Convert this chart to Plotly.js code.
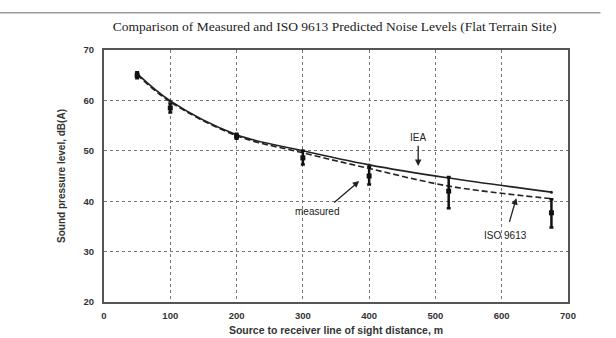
<!DOCTYPE html>
<html>
<head>
<meta charset="utf-8">
<script src="https://cdn.plot.ly/plotly-3.0.1.min.js"></script>
<style>html,body{margin:0;padding:0;background:#fff;}#chart{width:616px;height:338px;}</style>
</head>
<body>
<div id="chart"></div>
<script>
var distance = [50, 100, 200, 300, 400, 520, 675];
var ieaLevel = [65.3, 59.9, 53.2, 50.0, 47.2, 44.6, 41.8];
var isoLevel = [65.1, 59.7, 53.0, 49.6, 46.5, 43.0, 40.5];
var measuredMid = [65.0, 58.5, 52.9, 48.6, 45.0, 42.0, 37.7];
var measuredHigh = [65.6, 59.4, 53.4, 50.0, 46.8, 44.8, 40.4];
var measuredLow = [64.4, 57.6, 52.4, 47.3, 43.3, 38.6, 34.8];
var xTicks = [0, 100, 200, 300, 400, 500, 600, 700];
var yTicks = [20, 30, 40, 50, 60, 70];

var errPlus = measuredHigh.map(function(v, i){ return v - measuredMid[i]; });
var errMinus = measuredMid.map(function(v, i){ return v - measuredLow[i]; });

var traces = [
  {x: distance, y: ieaLevel, mode: 'lines+markers', line: {color: '#222', width: 1.6, shape: 'spline'},
   marker: {size: 3, color: '#222'}, name: 'IEA', hoverinfo: 'skip'},
  {x: distance, y: isoLevel, mode: 'lines', line: {color: '#222', width: 1.6, dash: '6px,3px', shape: 'spline'},
   name: 'ISO 9613', hoverinfo: 'skip'},
  {x: distance, y: measuredMid, mode: 'markers', marker: {symbol: 'square', size: 5, color: '#111'},
   error_y: {type: 'data', symmetric: false, array: errPlus, arrayminus: errMinus, color: '#111', thickness: 2.5, width: 2},
   name: 'measured', hoverinfo: 'skip'}
];

var sans = 'Liberation Sans, Arial, sans-serif';
var axisFont = {family: sans, size: 9.5, color: '#333', weight: 'bold'};
var noteFont = {family: sans, size: 10, color: '#222'};

var layout = {
  width: 616, height: 338,
  margin: {l: 104, r: 48, t: 50, b: 36},
  paper_bgcolor: '#fff', plot_bgcolor: '#fff',
  showlegend: false,
  title: {text: 'Comparison of Measured and ISO 9613 Predicted Noise Levels (Flat Terrain Site)',
          font: {family: 'Liberation Serif, Times New Roman, serif', size: 13.5, color: '#222'},
          x: 0.497, xref: 'paper', xanchor: 'center', y: 0.922, yanchor: 'middle'},
  xaxis: {range: [0, 700], tickvals: xTicks, ticktext: xTicks.map(String), tickfont: axisFont,
          showgrid: true, gridcolor: '#777', griddash: 'dot', gridwidth: 1, ticklabelstandoff: 4,
          showline: true, linecolor: '#555', linewidth: 2, mirror: true, zeroline: false, ticks: '', ticklen: 0,
          title: {text: 'Source to receiver line of sight distance, m', font: {family: sans, size: 10.5, color: '#333', weight: 'bold'}, standoff: 6}},
  yaxis: {range: [20, 70], tickvals: yTicks, ticktext: yTicks.map(String), tickfont: axisFont,
          showgrid: true, gridcolor: '#777', griddash: 'dot', gridwidth: 1, ticklabelstandoff: 6,
          showline: true, linecolor: '#555', linewidth: 2, mirror: true, zeroline: false, ticks: '', ticklen: 0,
          title: {text: 'Sound pressure level, dB(A)', font: {family: sans, size: 10, color: '#333', weight: 'bold'}, standoff: 16}},
  shapes: [
    {type: 'line', xref: 'paper', yref: 'paper', x0: -0.23, x1: 1.07, y0: 1.148, y1: 1.148, line: {color: '#999', width: 1.5}}
  ],
  annotations: [
    {x: 474, y: 47.0, ax: 474, ay: 51.3, xref: 'x', yref: 'y', axref: 'x', ayref: 'y', text: '', showarrow: true,
     arrowhead: 2, arrowsize: 1, arrowwidth: 1.3, arrowcolor: '#222'},
    {x: 474, y: 52.7, xref: 'x', yref: 'y', text: 'IEA', showarrow: false, font: noteFont},
    {x: 385, y: 44.0, ax: 345, ay: 39.5, xref: 'x', yref: 'y', axref: 'x', ayref: 'y', text: '', showarrow: true,
     arrowhead: 2, arrowsize: 1, arrowwidth: 1.3, arrowcolor: '#222'},
    {x: 322, y: 37.9, xref: 'x', yref: 'y', text: 'measured', showarrow: false, font: noteFont},
    {x: 622, y: 40.6, ax: 611, ay: 35.6, xref: 'x', yref: 'y', axref: 'x', ayref: 'y', text: '', showarrow: true,
     arrowhead: 2, arrowsize: 1, arrowwidth: 1.3, arrowcolor: '#222'},
    {x: 606, y: 33.1, xref: 'x', yref: 'y', text: 'ISO 9613', showarrow: false, font: noteFont}
  ]
};

Plotly.newPlot('chart', traces, layout, {displayModeBar: false, staticPlot: true});
</script>
</body>
</html>
